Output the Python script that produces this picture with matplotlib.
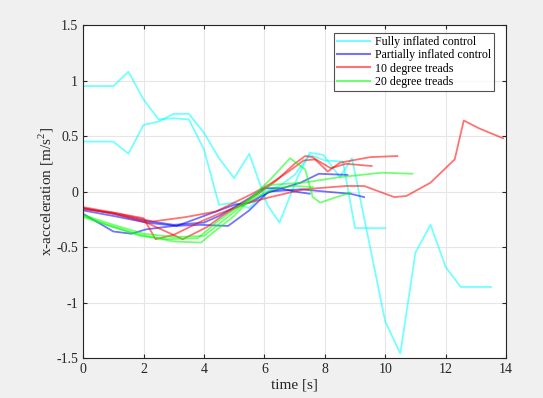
import matplotlib
matplotlib.use("Agg")
import matplotlib.pyplot as plt

plt.rcParams['font.family'] = ['Liberation Serif', 'DejaVu Serif']
plt.rcParams['mathtext.fontset'] = 'custom'
plt.rcParams['mathtext.rm'] = 'Liberation Serif'

# Fully inflated control
c1_t = [0, 1, 1.5, 2, 2.5, 3, 3.5, 4, 4.5, 5, 5.5, 6, 6.5, 7, 7.5, 8, 8.6, 9, 10]
c1_a = [0.95, 0.95, 1.08, 0.83, 0.65, 0.66, 0.65, 0.38, -0.12, -0.10, -0.15, 0.0, 0.05, 0.15, 0.33, 0.28, 0.27, -0.33, -0.33]
c2_t = [0, 1, 1.5, 2, 2.5, 3, 3.5, 4, 4.5, 5, 5.5, 6.1, 6.5, 7.1, 7.5, 7.95, 8.5, 8.9, 10, 10.5, 11, 11.5, 12, 12.5, 13.5]
c2_a = [0.45, 0.45, 0.34, 0.60, 0.63, 0.70, 0.70, 0.53, 0.30, 0.12, 0.34, -0.12, -0.28, 0.13, 0.35, 0.33, 0.13, 0.30, -1.17, -1.46, -0.55, -0.30, -0.68, -0.86, -0.86]

# Partially inflated control
b1_t = [0, 1, 1.6, 2.1, 3, 3.9, 4.8, 5.5, 6.1, 7.2, 7.8, 8.75]
b1_a = [-0.20, -0.36, -0.38, -0.34, -0.31, -0.30, -0.31, -0.17, -0.01, 0.08, 0.16, 0.15]
b2_t = [0, 1, 2.1, 3.1, 4.4, 5, 5.5, 6.2, 7.2, 8.0, 8.85, 9.3]
b2_a = [-0.17, -0.22, -0.28, -0.31, -0.18, -0.12, -0.10, 0.0, 0.02, 0.0, -0.02, -0.05]
b3_t = [0, 1, 2, 3, 4, 4.5, 5, 5.5, 6, 6.5, 7, 7.5]
b3_a = [-0.15, -0.20, -0.26, -0.30, -0.28, -0.22, -0.14, -0.06, 0.03, 0.03, 0.0, -0.02]

# 10 degree treads
r1_t = [0, 1, 2, 2.4, 3, 3.9, 4.5, 5, 5.5, 6.2, 7.3, 8.7, 9.3, 9.8, 10.3, 10.7, 11.5, 12.3, 12.6, 13.1, 13.9]
r1_a = [-0.16, -0.19, -0.24, -0.43, -0.39, -0.27, -0.20, -0.15, -0.10, -0.05, 0.02, 0.05, 0.05, 0.0, -0.05, -0.04, 0.08, 0.29, 0.64, 0.57, 0.48]
r2_t = [0, 1, 2.1, 3.3, 4.1, 4.6, 5.2, 5.8, 6.4, 7.0, 7.35, 7.6, 8.1, 8.5, 9.5, 10.4]
r2_a = [-0.15, -0.20, -0.28, -0.43, -0.32, -0.22, -0.12, -0.02, 0.10, 0.25, 0.32, 0.31, 0.18, 0.26, 0.31, 0.32]
r3_t = [0, 1, 2.3, 3.4, 4.4, 5, 5.6, 6.2, 6.8, 7.3, 7.7, 8.2, 8.7, 9.55]
r3_a = [-0.14, -0.19, -0.27, -0.23, -0.18, -0.10, -0.02, 0.07, 0.18, 0.28, 0.29, 0.21, 0.25, 0.23]

# 20 degree treads
g1_t = [0, 0.9, 1.9, 3.0, 3.9, 4.3, 5.0, 5.6, 6.2, 6.85, 7.35, 7.6, 7.85, 8.5, 8.85]
g1_a = [-0.22, -0.31, -0.39, -0.45, -0.46, -0.37, -0.22, -0.05, 0.11, 0.30, 0.20, -0.05, -0.10, -0.04, -0.01]
g2_t = [0, 1.9, 2.8, 3.8, 4.4, 5.0, 5.6, 6.2, 7.3, 8.5, 9.2, 9.9, 10.9]
g2_a = [-0.23, -0.40, -0.43, -0.42, -0.28, -0.16, -0.05, 0.06, 0.08, 0.13, 0.15, 0.17, 0.16]
g3_t = [0, 1, 2, 3, 4, 4.6, 5.2, 5.8, 6.4, 7.0, 7.6]
g3_a = [-0.21, -0.30, -0.38, -0.41, -0.40, -0.27, -0.14, -0.04, 0.03, 0.05, 0.04]

series = [
    ("Fully inflated control", (0, 1, 1), [(c1_t, c1_a), (c2_t, c2_a)]),
    ("Partially inflated control", (0, 0, 1), [(b1_t, b1_a), (b2_t, b2_a), (b3_t, b3_a)]),
    ("10 degree treads", (1, 0, 0), [(r1_t, r1_a), (r2_t, r2_a), (r3_t, r3_a)]),
    ("20 degree treads", (0, 1, 0), [(g1_t, g1_a), (g2_t, g2_a), (g3_t, g3_a)]),
]

fig = plt.figure(figsize=(5.43, 3.98), dpi=100, facecolor='#f0f0f0')
ax = fig.add_axes([0.153, 0.1005, 0.779, 0.8365])
ax.set_facecolor('white')

for label, color, lines in series:
    for i, (t, a) in enumerate(lines):
        ax.plot(t, a, color=color, alpha=0.55, lw=1.3, label=label if i == 0 else None)

ax.set_xlim(0, 14)
ax.set_ylim(-1.5, 1.5)
ax.set_xticks([0, 2, 4, 6, 8, 10, 12, 14])
ax.set_yticks([-1.5, -1, -0.5, 0, 0.5, 1, 1.5])
ax.set_yticklabels(['-1.5', '-1', '-0.5', '0', '0.5', '1', '1.5'])
ax.grid(True, color='#e6e6e6', lw=0.8)
ax.set_axisbelow(True)
ax.tick_params(direction='in', top=True, right=True, labelsize=10, colors='#262626', length=3)
for s in ax.spines.values():
    s.set_color('#262626')
    s.set_linewidth(0.8)
ax.set_xlabel('time [s]', fontsize=11, color='#262626', labelpad=2)
ax.set_ylabel('x-acceleration [m/s$^2$]', fontsize=11, color='#262626', labelpad=0)

leg = ax.legend(loc='upper right', fontsize=8.6, frameon=True, fancybox=False,
                edgecolor='#262626', handlelength=2.8, handletextpad=0.4, borderpad=0.25,
                labelspacing=0.12, bbox_to_anchor=(0.986, 0.995))
leg.get_frame().set_linewidth(0.8)
for h in leg.get_lines():
    h.set_linewidth(1.5)

fig.savefig('out.png', dpi=100, facecolor=fig.get_facecolor())
